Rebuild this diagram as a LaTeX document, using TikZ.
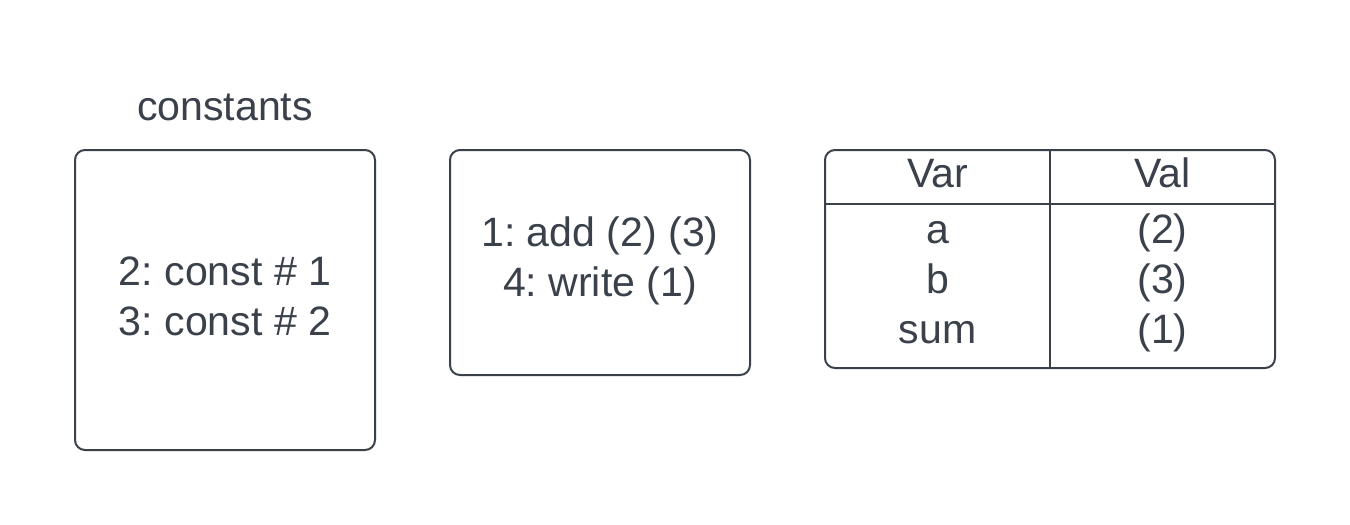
\documentclass[tikz,border=0pt]{standalone}
\usepackage{fontspec}
\setmainfont{Liberation Sans}
\definecolor{ink}{RGB}{58,65,74}
\begin{document}
\frenchspacing
\begin{tikzpicture}[x=0.75pt,y=-0.75pt,
  box/.style={draw=ink,line width=1.5pt,rounded corners=7.5pt,inner sep=0pt},
  txt/.style={text=ink,font=\fontsize{30.8pt}{37.5pt}\selectfont,anchor=base,inner sep=0pt}]
\useasboundingbox (0,0) rectangle (1350,525);
\node[box,minimum width=225pt,minimum height=225pt] (consts) at (225,300) {};
\node[box,minimum width=225pt,minimum height=168.75pt] (code) at (600,262.5) {};
\node[box,minimum width=337.5pt,minimum height=163.5pt] (table) at (1050,259) {};
\draw[ink,line width=1.5pt] (table.north) -- (table.south);
\coordinate (hl) at (825,204);
\coordinate (hr) at (1275,204);
\draw[ink,line width=1.5pt] (hl) -- (hr);
\node[txt] (title) at (225,120) {constants};
\node[txt] (c1) at (225,285) {2: const \# 1};
\node[txt] (c2) at (225,335) {3: const \# 2};
\node[txt] (i1) at (600,246) {1: add (2) (3)};
\node[txt] (i2) at (600,296) {4: write (1)};
\node[txt] (hvar) at (937.5,187) {Var};
\node[txt] (hval) at (1162.5,187) {Val};
\node[txt] (va) at (937.5,243) {a};
\node[txt] (vb) at (937.5,293) {b};
\node[txt] (vs) at (937.5,343) {sum};
\node[txt] (la) at (1162.5,243) {(2)};
\node[txt] (lb) at (1162.5,293) {(3)};
\node[txt] (ls) at (1162.5,343) {(1)};
\end{tikzpicture}
\end{document}
